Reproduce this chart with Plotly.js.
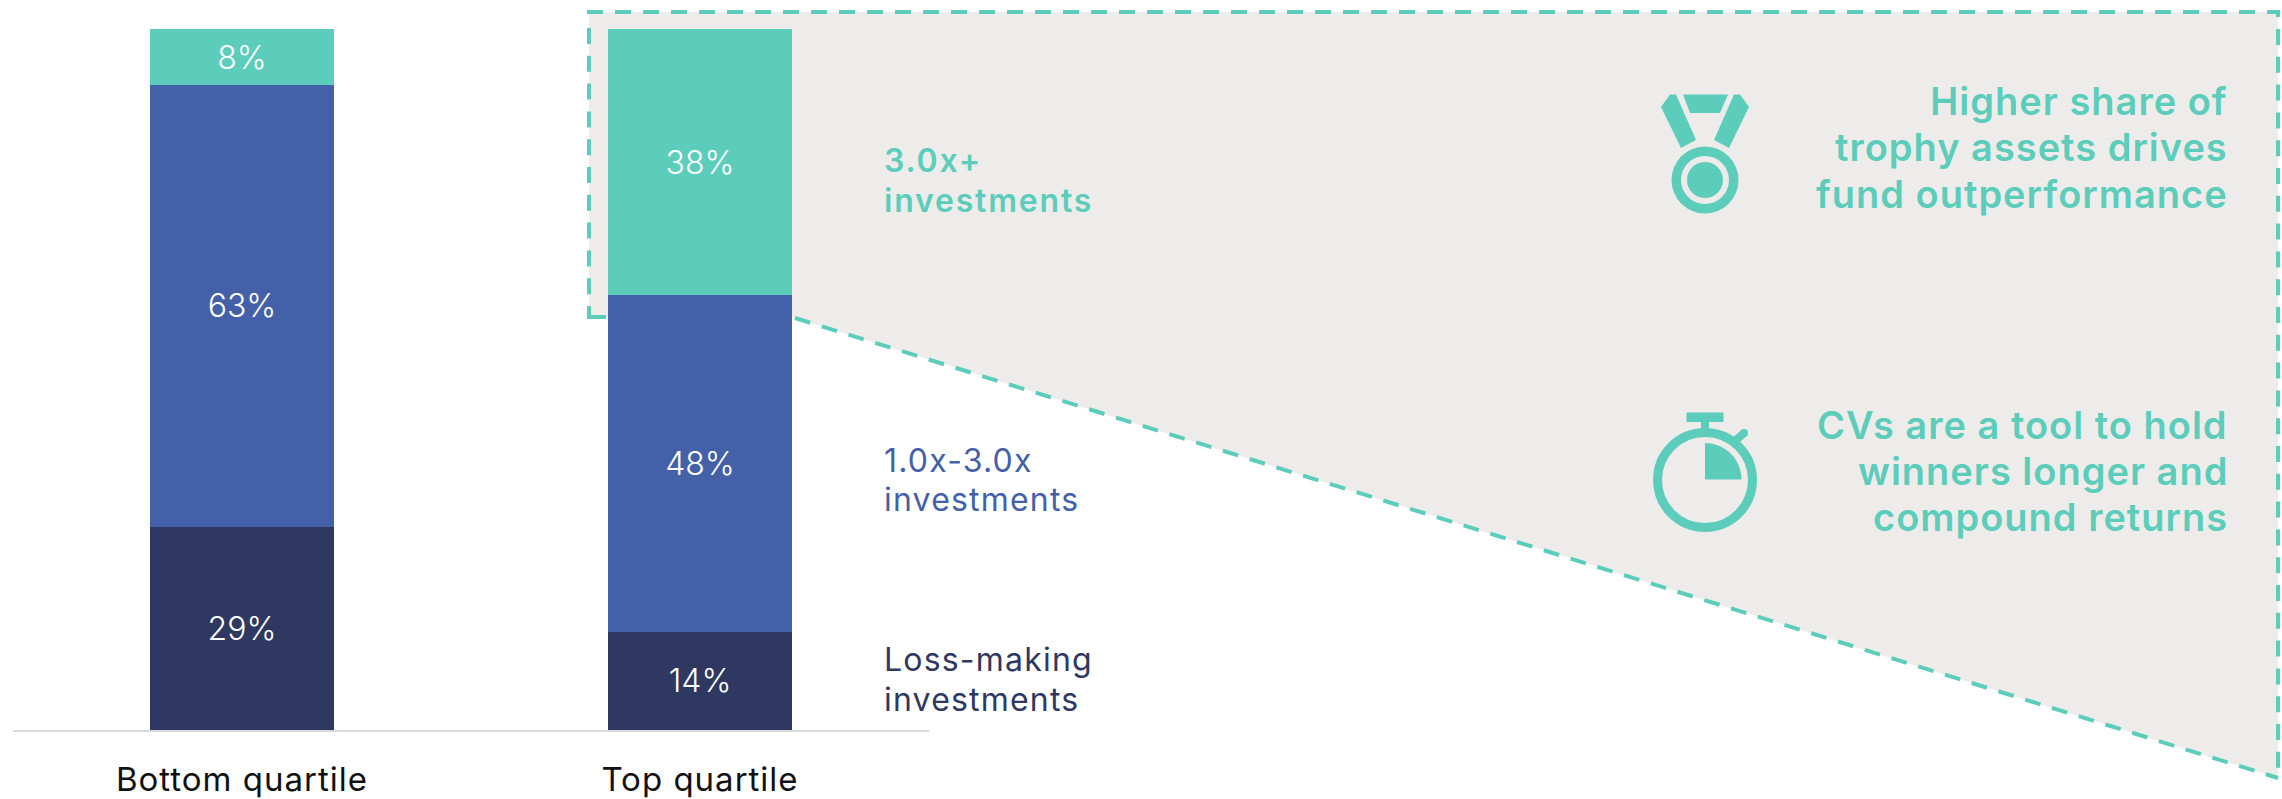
<!DOCTYPE html>
<html>
<head>
<meta charset="utf-8">
<script src="https://cdn.plot.ly/plotly-3.0.1.min.js"></script>
<style>
html,body{margin:0;padding:0;background:#fff}
#chart{width:2282px;height:799px}
/* Open tracking on the labels */
.xtick text{letter-spacing:1px}
.annotation[data-index="0"] text,.annotation[data-index="1"] text{letter-spacing:1.8px}
.annotation[data-index="2"] text,.annotation[data-index="3"] text,
.annotation[data-index="4"] text,.annotation[data-index="5"] text{letter-spacing:1.2px}
.annotation[data-index="6"] text,.annotation[data-index="7"] text,.annotation[data-index="8"] text,
.annotation[data-index="9"] text,.annotation[data-index="10"] text,.annotation[data-index="11"] text{letter-spacing:1px}
</style>
</head>
<body>
<div id="chart"></div>
<script>
// Share of fund investments by outcome, bottom vs top quartile funds
const quartiles = ['Bottom quartile', 'Top quartile'];
const lossMaking = [29, 14];
const midReturn = [63, 48];
const trophy = [8, 38];

const DARK = '#2F3860', BLUE = '#4460A8', TEAL = '#5DCDBB', PANEL = '#EEECEA';
const FONT = 'Inter, sans-serif';
const W = 2282, H = 799;

// Canvas pixel helpers for callout artwork positioned on paper coordinates
const margin = {l: 13, r: 1353, t: 29, b: 69};
const plotW = W - margin.l - margin.r, plotH = H - margin.t - margin.b;
const px = x => (x - margin.l) / plotW;
const py = y => 1 - (y - margin.t) / plotH;
const P = (x, y) => px(x) + ',' + py(y);
const open = pts => 'M' + pts.map(p => P(p[0], p[1])).join('L');
const poly = pts => open(pts) + 'Z';

const paper = {xref: 'paper', yref: 'paper'};
const solid = (path, color) => Object.assign({type: 'path', path, fillcolor: color, line: {width: 0}, layer: 'above'}, paper);
const circle = (cx, cy, r, fill, stroke, sw) => Object.assign({
  type: 'circle', x0: px(cx - r), x1: px(cx + r), y0: py(cy + r), y1: py(cy - r),
  fillcolor: fill, line: {color: stroke || fill, width: sw || 0}, layer: 'above'
}, paper);
const edge = (pts, dash) => Object.assign({
  type: 'path', layer: 'below', fillcolor: 'rgba(0,0,0,0)',
  line: {color: TEAL, width: 4, dash}, path: open(pts)
}, paper);

const panelFill = Object.assign({
  type: 'path', layer: 'below', fillcolor: PANEL, line: {width: 0},
  path: poly([[589, 12], [2278, 12], [2278, 778], [792, 317], [589, 317]])
}, paper);
const panelEdges = [
  edge([[587, 12], [2278, 12], [2278, 17.5]], '16px,12px'),
  edge([[2278, 29], [2278, 778]], '16px,11.8px'),
  edge([[589, 28], [589, 306]], '16px,11.8px'),
  edge([[589, 306], [589, 317], [606, 317]], 'solid'),
  edge([[795, 318], [2278, 778]], '16px,12px'),
  edge([[2276, 317], [2280, 317]], 'solid')
];

// Medal icon
const medal = [
  solid(poly([[1661, 107], [1670, 94.5], [1676, 94.5], [1696, 140], [1681, 148]]), TEAL),
  solid(poly([[1749, 107], [1740, 94.5], [1734, 94.5], [1714, 140], [1729, 148]]), TEAL),
  solid(poly([[1683, 94.5], [1728, 94.5], [1720, 113], [1690, 113]]), TEAL),
  circle(1705, 180, 33.5, TEAL),
  circle(1705, 180, 24, PANEL),
  circle(1705, 180, 18, TEAL)
];

// Stopwatch icon: the quarter wedge is a cubic approximation of a circular arc
const k = 0.5523 * 36.5;
const wedge = 'M' + P(1705, 479.5) + 'L' + P(1705, 443) +
  'C' + P(1705 + k, 443) + ' ' + P(1741.5, 479.5 - k) + ' ' + P(1741.5, 479.5) + 'Z';
const watch = [
  circle(1705, 480, 47.5, 'rgba(0,0,0,0)', TEAL, 9),
  solid(poly([[1686.5, 412.5], [1723.5, 412.5], [1723.5, 422], [1686.5, 422]]), TEAL),
  solid(poly([[1701, 421], [1709, 421], [1709, 432], [1701, 432]]), TEAL),
  Object.assign({type: 'line', x0: px(1735), y0: py(441), x1: px(1744), y1: py(433),
    line: {color: TEAL, width: 8}, layer: 'above'}, paper),
  circle(1744, 433, 4, TEAL),
  solid(wedge, TEAL)
];

const note = (text, x, y, size, color, weight, anchor) => ({
  text, x: px(x), y: py(y), xref: 'paper', yref: 'paper',
  xanchor: anchor, yanchor: 'middle', align: anchor, showarrow: false,
  font: {family: FONT, size, color, weight}
});

const series = (name, y, color) => ({
  type: 'bar', name, x: quartiles, y, width: 0.4,
  marker: {color, line: {width: 0}},
  texttemplate: '%{y}%', textposition: 'inside', insidetextanchor: 'middle',
  insidetextfont: {family: FONT, size: 32, color: '#FFFFFF', weight: 300},
  constraintext: 'none', hoverinfo: 'skip', cliponaxis: false
});

const data = [
  series('Loss-making investments', lossMaking, DARK),
  series('1.0x-3.0x investments', midReturn, BLUE),
  series('3.0x+ investments', trophy, TEAL)
];

const LEGEND = 32, HEAD = 38;
const layout = {
  width: W, height: H, margin, barmode: 'stack', showlegend: false,
  paper_bgcolor: '#FFFFFF', plot_bgcolor: 'rgba(0,0,0,0)',
  xaxis: {type: 'category', range: [-0.5, 1.5], showline: true, linecolor: '#D9D9D9', linewidth: 2,
    ticks: '', showgrid: false, zeroline: false, ticklabelstandoff: 19,
    tickfont: {family: FONT, size: 33, color: '#111111'}},
  yaxis: {range: [0, 100], visible: false, fixedrange: true},
  shapes: [panelFill, ...panelEdges, ...medal, ...watch],
  annotations: [
    note('3.0x+', 882, 160, LEGEND, TEAL, 600, 'left'),
    note('investments', 882, 200, LEGEND, TEAL, 600, 'left'),
    note('1.0x-3.0x', 882, 460, LEGEND, BLUE, 400, 'left'),
    note('investments', 882, 500, LEGEND, BLUE, 400, 'left'),
    note('Loss-making', 882, 659, LEGEND, DARK, 400, 'left'),
    note('investments', 882, 699, LEGEND, DARK, 400, 'left'),
    note('Higher share of', 2230, 101, HEAD, TEAL, 600, 'right'),
    note('trophy assets drives', 2230, 147, HEAD, TEAL, 600, 'right'),
    note('fund outperformance', 2230, 194, HEAD, TEAL, 600, 'right'),
    note('CVs are a tool to hold', 2230, 425, HEAD, TEAL, 600, 'right'),
    note('winners longer and', 2230, 470.5, HEAD, TEAL, 600, 'right'),
    note('compound returns', 2230, 516.5, HEAD, TEAL, 600, 'right')
  ]
};

Plotly.newPlot('chart', data, layout, {displayModeBar: false, responsive: false});
</script>
</body>
</html>
